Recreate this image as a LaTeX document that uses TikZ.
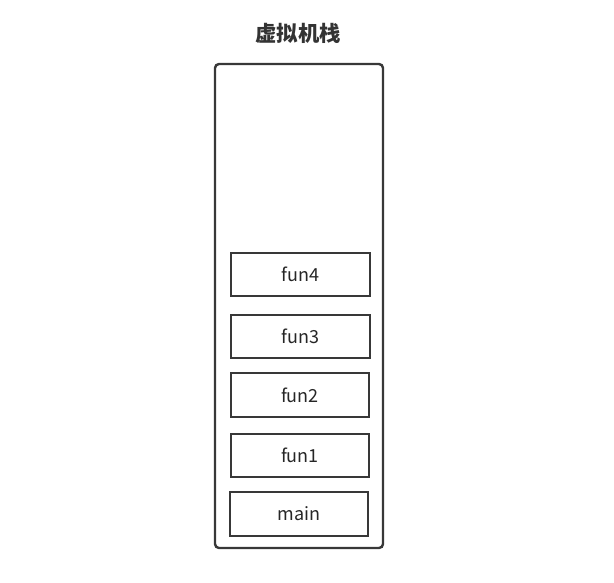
\documentclass[tikz,border=0pt]{standalone}
\usepackage{fontspec}
\setmainfont{Noto Sans CJK SC}
\begin{document}
\begin{tikzpicture}[x=0.75pt,y=-0.75pt,
  frame/.style={draw=black!78,line width=1.8pt,rounded corners=3pt},
  cell/.style={draw=black!78,line width=1.9pt,fill=white},
  lbl/.style={font=\fontsize{13.5}{16}\selectfont,text=black!85}]
\useasboundingbox[fill=white] (0,0) rectangle (614,582);
\node[font=\fontsize{16}{19}\selectfont\bfseries,text=black!80] (title) at (298,33) {虚拟机栈};
\draw[frame] (215,64) rectangle (383,548);
\draw[cell] (231,253) rectangle (370,296);
\node[lbl] (f4) at (300.5,274.5) {fun4};
\draw[cell] (231,315) rectangle (370,358);
\node[lbl] (f3) at (300.5,336.5) {fun3};
\draw[cell] (231,373) rectangle (369,417);
\node[lbl] (f2) at (300,395) {fun2};
\draw[cell] (231,434) rectangle (369,477);
\node[lbl] (f1) at (300,455.5) {fun1};
\draw[cell] (230,492) rectangle (368,536);
\node[lbl] (m) at (299,514) {main};
\end{tikzpicture}
\end{document}
